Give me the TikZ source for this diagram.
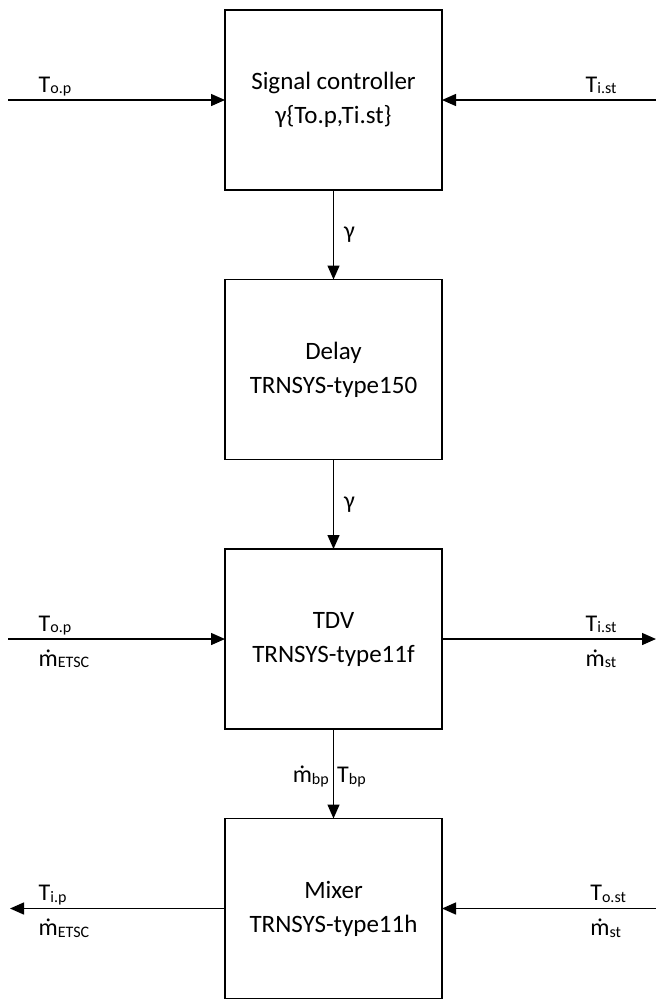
\documentclass[tikz,border=0pt]{standalone}
\usepackage{fontspec}
\setmainfont{Carlito}
\usetikzlibrary{arrows.meta,positioning}

\newcommand{\lowsub}[1]{\raisebox{-1.5pt}{\fontsize{16}{16}\selectfont #1}}
\newcommand{\mdot}{\ooalign{m\cr\hidewidth ˙\hidewidth\cr}}

\begin{document}
\begin{tikzpicture}[x=1pt,y=-1pt,->,>={Triangle[length=14pt,width=12pt]},line width=1.4pt,node distance=89.5pt]
  \tikzstyle{block}=[draw,outer sep=0pt,minimum width=217pt,minimum height=180pt,align=center,font=\fontsize{25}{34}\selectfont]
  \tikzstyle{lbl}=[inner sep=0pt,font=\fontsize{24}{24}\selectfont]
  \tikzstyle{toplbl}=[lbl,anchor=base west,yshift=8pt]
  \tikzstyle{botlbl}=[lbl,anchor=base west,yshift=-27pt]
  \tikzstyle{gam}=[lbl,anchor=west,xshift=10pt]

  \useasboundingbox (0,0) rectangle (656,999);

  \node[block] (ctrl) at (333.5,100) {Signal controller\\ γ\{To.p,Ti.st\}};
  \node[block] (delay) [below=of ctrl] {Delay\\ TRNSYS-type150};
  \node[block] (tdv) [below=of delay] {TDV\\ TRNSYS-type11f};
  \node[block] (mixer) [below=of tdv] {Mixer\\ TRNSYS-type11h};

  \coordinate (opin) at (8,100);
  \coordinate (istin) at (656,100);
  \coordinate (opin2) at (tdv.west -| opin);
  \coordinate (istout) at (tdv.east -| istin);
  \coordinate (ipout) at (mixer.west -| 10,0);
  \coordinate (ostin) at (mixer.east -| istin);

  % controller inputs
  \draw (opin) -- node[toplbl,pos=0.138] {T\lowsub{o.p}} (ctrl.west);
  \draw (istin) -- node[toplbl,pos=0.332] {T\lowsub{i.st}} (ctrl.east);

  % signal chain
  \draw (ctrl) -- node[gam] {γ} (delay);
  \draw (delay) -- node[gam] {γ} (tdv);

  % diverting valve
  \draw (opin2) -- node[toplbl,pos=0.138] {T\lowsub{o.p}}
                   node[botlbl,pos=0.138] {\mdot\lowsub{ETSC}} (tdv.west);
  \draw (tdv.east) -- node[toplbl,pos=0.668] {T\lowsub{i.st}}
                      node[botlbl,pos=0.668] {\mdot\lowsub{st}} (istout);
  \draw (tdv) -- node[lbl,anchor=base east,xshift=-4pt,yshift=-9pt] {\mdot\lowsub{bp}}
                 node[lbl,anchor=base west,xshift=3pt,yshift=-9pt] {T\lowsub{bp}} (mixer);

  % mixer
  \draw (mixer.west) -- node[toplbl,pos=0.87] {T\lowsub{i.p}}
                        node[botlbl,pos=0.87] {\mdot\lowsub{ETSC}} (ipout);
  \draw (ostin) -- node[toplbl,pos=0.31] {T\lowsub{o.st}}
                   node[botlbl,pos=0.31] {\mdot\lowsub{st}} (mixer.east);
\end{tikzpicture}
\end{document}
